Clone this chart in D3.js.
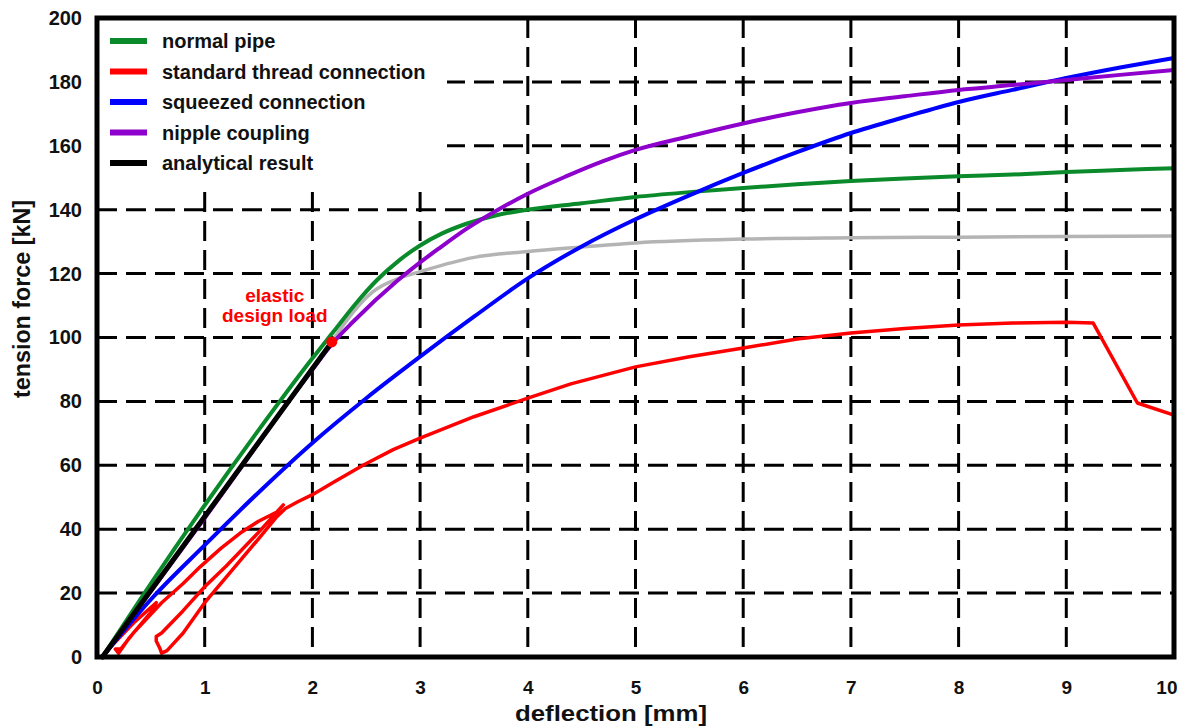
<!DOCTYPE html>
<html>
<head>
<meta charset="utf-8">
<script src="https://cdn.jsdelivr.net/npm/d3@7"></script>
<style>
  body { margin: 0; background: #fff; }
  svg { display: block; font-family: 'Liberation Sans', Arial, sans-serif; font-weight: bold; }
</style>
</head>
<body>
<div id="chart"></div>
<script>
const width = 1181;
const height = 727;
const margin = {top: 18, right: 7, bottom: 70, left: 97};

// deflection [mm], tension force [kN]
const normalPipe = [
  [0.05, 0], [0.5, 23], [1, 47.5], [1.5, 71], [2, 93.5], [2.2, 102], [2.4, 110.5], [2.6, 118],
  [2.8, 124], [3, 128.8], [3.2, 132.5], [3.43, 135.6], [3.7, 138.2], [4, 140], [4.5, 142], [5, 144],
  [5.5, 145.5], [6, 146.8], [6.5, 148], [7, 149], [7.5, 149.8], [8, 150.5], [8.5, 151],
  [9, 151.8], [9.5, 152.4], [10, 153],
];
const standardThread = [
  [0.05, 0], [0.15, 4], [0.35, 11], [0.55, 17], [0.5, 14], [0.3, 6], [0.2, 1.2], [0.17, 2.5],
  [0.22, 2.5], [0.35, 8], [0.6, 17], [0.8, 23], [0.96, 28.3], [1.15, 34], [1.33, 38.8],
  [1.5, 42.5], [1.67, 45.4], [1.73, 47.6], [1.5, 39], [1.2, 28.5], [1, 22], [0.8, 14.5],
  [0.6, 7.5], [0.55, 6.4], [0.55, 5], [0.58, 3], [0.6, 1.2], [0.65, 2], [0.8, 7.5], [1, 17],
  [1.2, 25], [1.5, 37], [1.67, 43.9], [1.75, 46.5], [1.86, 48.5], [2, 50.8], [2.2, 54.8],
  [2.47, 60], [2.75, 64.9], [3, 68.5], [3.5, 75.2], [4, 81], [4.4, 85.5], [5, 90.8],
  [5.5, 94], [6, 96.7], [6.5, 99.5], [7, 101.4], [7.5, 102.8], [8, 103.9], [8.5, 104.5],
  [9, 104.8], [9.25, 104.5], [9.66, 79.5], [10, 75.7],
];
const squeezed = [
  [0.05, 0], [0.5, 18], [1, 35], [1.5, 51.5], [2, 67], [2.5, 81], [3, 94], [3.5, 106.5],
  [4, 118.5], [4.5, 128.5], [5, 137], [5.5, 144.5], [6, 151.5], [6.5, 158], [7, 164], [7.5, 169],
  [8, 173.7], [8.5, 177.5], [9, 181.2], [9.5, 184.5], [10, 187.5],
];
const nippleCoupling = [
  [0.05, 0], [1, 43.5], [2, 90], [2.19, 98.3], [2.38, 105], [2.78, 117.5], [3, 123.5],
  [3.18, 128], [3.43, 134], [3.74, 140.3], [4, 145], [4.36, 150.5], [4.7, 155.2],
  [5, 158.7], [5.5, 163], [6, 167], [6.5, 170.5], [7, 173.4], [7.5, 175.5], [8, 177.5],
  [8.5, 179], [9, 180.6], [9.5, 182.2], [10, 183.7],
];
const analytical = [[0.05, 0], [2.18, 98.6]];
const analyticalPlastic = [
  [2.18, 98.6], [2.3, 104.5], [2.56, 114.3], [2.8, 118.5], [3, 120.6], [3.49, 125], [4, 126.9],
  [4.5, 128.3], [5, 129.6], [6, 130.8], [7, 131.2], [8, 131.4], [9, 131.6], [10, 131.8],
];
const designLoad = [2.18, 98.6];

const xTicks = [0, 1, 2, 3, 4, 5, 6, 7, 8, 9, 10];
const yTicks = [0, 20, 40, 60, 80, 100, 120, 140, 160, 180, 200];
const legendNames = ['normal pipe', 'standard thread connection', 'squeezed connection', 'nipple coupling', 'analytical result'];
const legendColors = ['#0a8a2a', '#ff0000', '#0000ff', '#8e00cc', '#000000'];

const x = d3.scaleLinear().domain([0, 10]).range([margin.left, width - margin.right]);
const y = d3.scaleLinear().domain([0, 200]).range([height - margin.bottom, margin.top]);

const svg = d3.select('#chart').append('svg')
  .attr('width', width)
  .attr('height', height);

// grid
const grid = svg.append('g')
  .attr('stroke', '#000')
  .attr('stroke-width', 3)
  .attr('stroke-dasharray', '20,9');
grid.selectAll('.h')
  .data(yTicks.filter((d)=>d > 0 && d < 200))
  .join('line')
  .attr('x1', x(0)).attr('x2', x(10))
  .attr('y1', (d)=>y(d)).attr('y2', (d)=>y(d));
grid.selectAll('.v')
  .data(xTicks.filter((d)=>d > 0 && d < 10))
  .join('line')
  .attr('y1', y(200)).attr('y2', y(0))
  .attr('x1', (d)=>x(d)).attr('x2', (d)=>x(d));

// legend box hides the grid behind it
svg.append('rect')
  .attr('x', x(0)).attr('y', y(200))
  .attr('width', 350).attr('height', 165)
  .attr('fill', '#fff');

const smooth = d3.line()
  .x((d)=>x(d[0]))
  .y((d)=>y(d[1]))
  .curve(d3.curveMonotoneX);
const straight = d3.line()
  .x((d)=>x(d[0]))
  .y((d)=>y(d[1]));

const curves = [
  {data: analyticalPlastic, color: '#b4b4b4', w: 3.5, gen: smooth},
  {data: normalPipe, color: legendColors[0], w: 4, gen: smooth},
  {data: standardThread, color: legendColors[1], w: 3.5, gen: straight},
  {data: squeezed, color: legendColors[2], w: 4, gen: smooth},
  {data: nippleCoupling, color: legendColors[3], w: 4, gen: smooth},
  {data: analytical, color: legendColors[4], w: 5, gen: straight},
];
svg.append('g')
  .attr('fill', 'none')
  .attr('stroke-linejoin', 'round')
  .attr('stroke-linecap', 'round')
  .selectAll('path')
  .data(curves)
  .join('path')
  .attr('d', (d)=>d.gen(d.data))
  .attr('stroke', (d)=>d.color)
  .attr('stroke-width', (d)=>d.w);

svg.append('circle')
  .attr('cx', x(designLoad[0]))
  .attr('cy', y(designLoad[1]))
  .attr('r', 5.5)
  .attr('fill', '#ff0000');

svg.append('text')
  .attr('x', x(designLoad[0]) - 57)
  .attr('y', y(designLoad[1]) - 40)
  .attr('text-anchor', 'middle')
  .attr('fill', '#ff0000')
  .style('font-size', '19px')
  .selectAll('tspan')
  .data(['elastic', 'design load'])
  .join('tspan')
  .attr('x', x(designLoad[0]) - 57)
  .attr('dy', (d, i)=>i ? 20 : 0)
  .text((d)=>d);

// legend
const legend = svg.append('g');
const legendRow = legend.selectAll('g')
  .data(legendNames)
  .join('g')
  .attr('transform', (d, i)=>`translate(0,${41 + i * 30.5})`);
legendRow.append('line')
  .attr('x1', 110).attr('x2', 147)
  .attr('stroke', (d, i)=>legendColors[i])
  .attr('stroke-width', 6);
legendRow.append('text')
  .attr('x', 162)
  .attr('y', 7)
  .style('font-size', '20px')
  .attr('fill', '#111')
  .text((d)=>d);

// frame
svg.append('rect')
  .attr('x', x(0)).attr('y', y(200))
  .attr('width', x(10) - x(0)).attr('height', y(0) - y(200))
  .attr('fill', 'none')
  .attr('stroke', '#000')
  .attr('stroke-width', 5);

// axes
const xAxis = svg.append('g')
  .attr('transform', `translate(0,${y(0)})`)
  .call(d3.axisBottom(x).tickValues(xTicks).tickSize(0).tickPadding(24));
xAxis.select('.domain').remove();
xAxis.selectAll('text')
  .style('font-size', '19px')
  .style('font-family', 'Liberation Sans, Arial, sans-serif')
  .style('font-weight', 'bold')
  .attr('fill', '#111')
  .attr('text-anchor', (d)=>d === 10 ? 'end' : 'middle')
  .attr('dx', (d)=>d === 10 ? 3 : 0);

const yAxis = svg.append('g')
  .attr('transform', `translate(${x(0)},0)`)
  .call(d3.axisLeft(y).tickValues(yTicks).tickSize(0).tickPadding(15));
yAxis.select('.domain').remove();
yAxis.selectAll('text')
  .style('font-size', '20px')
  .style('font-family', 'Liberation Sans, Arial, sans-serif')
  .style('font-weight', 'bold')
  .attr('fill', '#111');

svg.append('text')
  .attr('x', 611)
  .attr('y', 721)
  .attr('text-anchor', 'middle')
  .attr('textLength', 192)
  .attr('lengthAdjust', 'spacingAndGlyphs')
  .style('font-size', '22px')
  .attr('fill', '#111')
  .text('deflection [mm]');

svg.append('text')
  .attr('transform', 'translate(30,299) rotate(-90)')
  .attr('text-anchor', 'middle')
  .attr('textLength', 198)
  .attr('lengthAdjust', 'spacingAndGlyphs')
  .style('font-size', '23px')
  .attr('fill', '#111')
  .text('tension force [kN]');
</script>
</body>
</html>
